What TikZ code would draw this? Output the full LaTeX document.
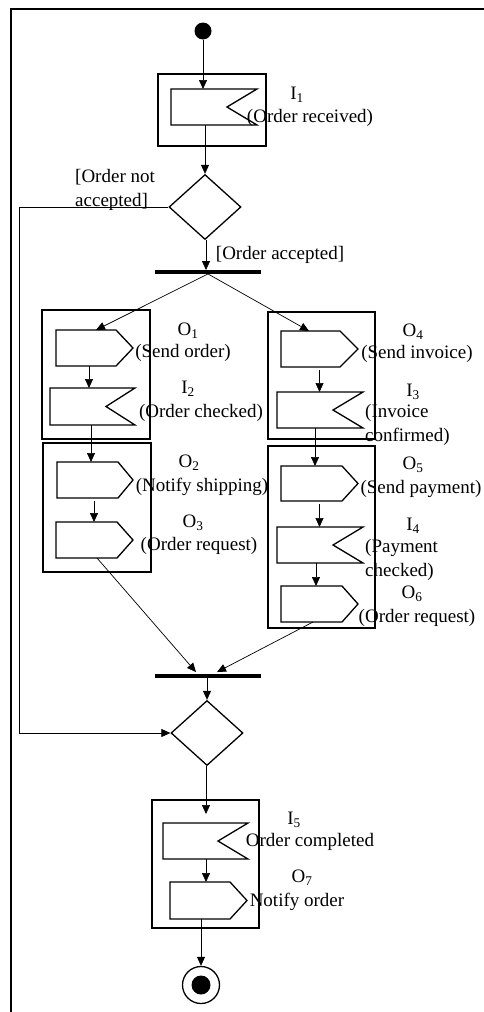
\documentclass[tikz,border=0pt]{standalone}
\usepackage{fontspec}
\setmainfont{Liberation Serif}
\usetikzlibrary{arrows.meta,shapes.geometric,calc}

% Send-signal (pentagon pointing east): name, x1, y1, x2, y2, point depth
\newcommand\sendsig[6]{%
  \node[slot, minimum width={#4-#2}, minimum height={#5-#3}] (#1) at ({(#2+#4)/2},{(#3+#5)/2}) {};
  \draw[shp] (#1.north west) -- ([xshift=-#6pt]#1.north east) -- (#1.east)
    -- ([xshift=-#6pt]#1.south east) -- (#1.south west) -- cycle;}
% Receive-signal (notched on the east side): name, x1, y1, x2, y2, notch depth
\newcommand\recvsig[6]{%
  \node[slot, minimum width={#4-#2}, minimum height={#5-#3}] (#1) at ({(#2+#4)/2},{(#3+#5)/2}) {};
  \draw[shp] (#1.north west) -- (#1.north east) -- ([xshift=-#6pt]#1.east)
    -- (#1.south east) -- (#1.south west) -- cycle;}
% Grouping box: name, x1, y1, x2, y2
\newcommand\groupbox[5]{%
  \node[slot, draw, shp, minimum width={#4-#2}, minimum height={#5-#3}] (#1) at ({(#2+#4)/2},{(#3+#5)/2}) {};}

\begin{document}
\begin{tikzpicture}[x=1pt,y=-1pt,
  every node/.style={font=\fontsize{19}{24}\selectfont},
  slot/.style={inner sep=0pt, outer sep=0pt, draw=none},
  shp/.style={line width=1.3pt, line join=miter},
  flow/.style={line width=0.7pt, -{Triangle[length=9pt,width=8pt]}},
  lbl/.style={inner sep=0pt, anchor=center},
  mlbl/.style={inner sep=0pt, anchor=west, align=left},
  bar/.style={fill=black, inner sep=0pt, minimum width=106pt, minimum height=3.5pt},
  choice/.style={diamond, draw, line width=1.3pt, inner sep=0pt, minimum width=72pt, minimum height=65pt},
]
\useasboundingbox (0,0) rectangle (483,1012);

% outer frame
\draw[line width=2pt] (10.5,1020) -- (10.5,8.5) -- (490,8.5);

% start and end
\node[circle, fill=black, inner sep=0pt, minimum size=17pt] (start) at (203,31) {};
\node[circle, draw, line width=1.3pt, inner sep=0pt, minimum size=37pt] (finish) at (201,985) {};
\node[circle, fill=black, inner sep=0pt, minimum size=19pt] (finishdot) at (201,985) {};

% grouping boxes
\groupbox{boxI}{158}{74}{266}{146}
\groupbox{boxA}{42}{310}{150}{439}
\groupbox{boxB}{43}{443}{151}{572}
\groupbox{boxC}{268}{312}{375}{439}
\groupbox{boxD}{268}{446}{375}{628}
\groupbox{boxE}{152}{800}{259}{928}

% signals
\recvsig{i1}{171}{89}{257}{125}{30}
\sendsig{o1}{56}{330}{133}{366}{17}
\recvsig{i2}{50}{388}{135}{425}{29}
\sendsig{o2}{57}{462}{133}{498}{15}
\sendsig{o3}{56}{522}{133}{558}{16}
\sendsig{o4}{281}{331}{358}{367}{18}
\recvsig{i3}{277}{392}{363}{428}{30}
\sendsig{o5}{281}{466}{358}{501}{16}
\recvsig{i4}{277}{527}{363}{563}{30}
\sendsig{o6}{281}{586}{358}{622}{16}
\recvsig{i5}{163}{823}{248}{859}{30}
\sendsig{o7}{170}{882}{247}{919}{17}

% decisions and bars
\node[choice] (d1) at (205,207) {};
\node[choice] (d2) at (207,733) {};
\node[bar] (bar1) at (208,272) {};
\node[bar] (bar2) at (208,676) {};
\coordinate (lp) at (19,500);

% labels
\node[lbl] (i1n) at (297,95) {I\textsubscript{1}};
\node[lbl] (i1t) at (310,118) {(Order received)};
\node[mlbl] (notacc) at (75,190) {[Order not\\accepted]};
\node[lbl] (acc) at (280,255) {[Order accepted]};
\node[lbl] (o1n) at (188,331) {O\textsubscript{1}};
\node[lbl] (o1t) at (183,353) {(Send order)};
\node[lbl] (i2n) at (188,389) {I\textsubscript{2}};
\node[lbl] (i2t) at (201,413) {(Order checked)};
\node[lbl] (o2n) at (189,463) {O\textsubscript{2}};
\node[lbl] (o2t) at (202,487) {(Notify shipping)};
\node[lbl] (o3n) at (193,523) {O\textsubscript{3}};
\node[lbl] (o3t) at (199,546) {(Order request)};
\node[lbl] (o4n) at (413,332) {O\textsubscript{4}};
\node[lbl] (o4t) at (417,354) {(Send invoice)};
\node[lbl] (i3n) at (413,392) {I\textsubscript{3}};
\node[mlbl] (i3t) at (365,425) {(Invoice\\confirmed)};
\node[lbl] (o5n) at (413,465) {O\textsubscript{5}};
\node[lbl] (o5t) at (421,489) {(Send payment)};
\node[lbl] (i4n) at (413,526) {I\textsubscript{4}};
\node[mlbl] (i4t) at (365,560) {(Payment\\checked)};
\node[lbl] (o6n) at (412,594) {O\textsubscript{6}};
\node[lbl] (o6t) at (417,618) {(Order request)};
\node[lbl] (i5n) at (294,820) {I\textsubscript{5}};
\node[lbl] (i5t) at (310,842) {Order completed};
\node[lbl] (o7n) at (302,878) {O\textsubscript{7}};
\node[lbl] (o7t) at (297,902) {Notify order};

% flows
\draw[flow] (start.south) -- (start.south |- i1.north);
\draw[flow] (i1.south -| d1.north) -- (d1.north);
\draw[flow] ([xshift=1pt]d1.south) -- ([xshift=1pt]d1.south |- bar1.north);
\draw[flow] (d1.west) -- (d1.west -| lp) -- (lp |- d2.west) -- (d2.west);

\draw[flow] (bar1.south) -- ([xshift=1.5pt]o1.north);
\draw[flow] (bar1.south) -- ([xshift=-10.5pt]o4.north);

\draw[flow] ([xshift=-5.5pt]o1.south) -- ([xshift=-5.5pt]o1.south |- i2.north);
\draw[flow] ([xshift=-1.5pt]i2.south) -- ([xshift=-1.5pt]i2.south |- o2.north);
\draw[flow] ([xshift=-1pt,yshift=-3pt]o2.south) -- ([xshift=-1pt]o2.south |- o3.north);
\draw[flow] ([xshift=2.5pt]o3.south) -- ([xshift=-12pt,yshift=2pt]bar2.north);

\draw[flow] ([yshift=-3pt]o4.south) -- (o4.south |- i3.north);
\draw[flow] ([xshift=-5pt]i3.south) -- ([xshift=-5pt]i3.south |- o5.north);
\draw[flow] ([yshift=-3pt]o5.south) -- (o5.south |- i4.north);
\draw[flow] ([xshift=-4pt]i4.south) -- ([xshift=-4pt]i4.south |- o6.north);
\draw[flow] ([xshift=-6.5pt]o6.south) -- ([xshift=9pt,yshift=2pt]bar2.north);

\draw[flow] (bar2.south -| d2.north) -- (d2.north);
\draw[flow] ([xshift=-1pt]d2.south) -- ([xshift=-1pt,yshift=9pt]d2.south |- i5.north);
\draw[flow] ([xshift=0.5pt]i5.south) -- ([xshift=0.5pt]i5.south |- o7.north);
\draw[flow] ([xshift=-7.5pt]o7.south) -- ([xshift=-7.5pt]o7.south |- finish.north);
\end{tikzpicture}
\end{document}
